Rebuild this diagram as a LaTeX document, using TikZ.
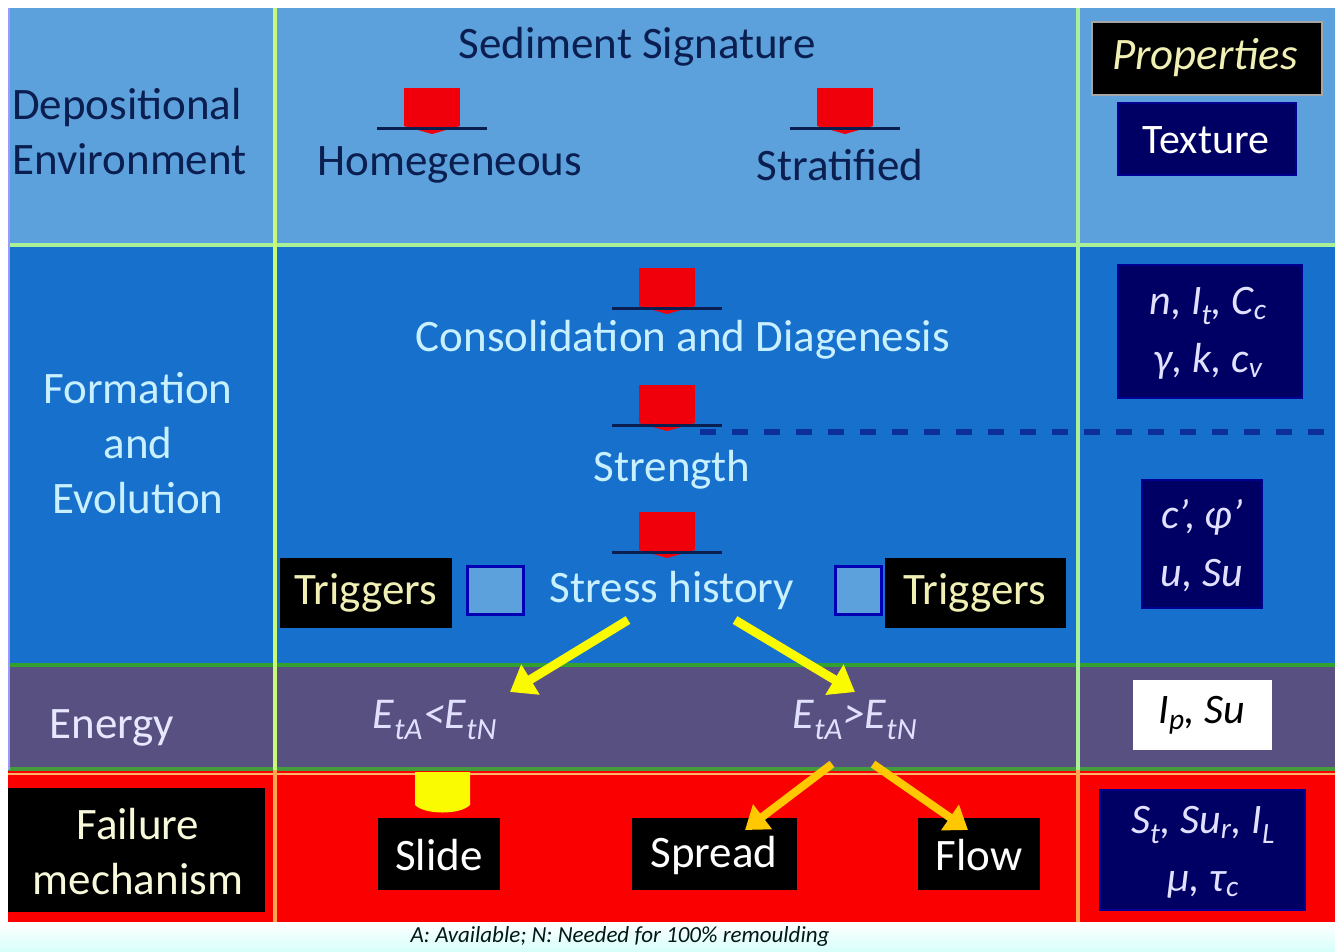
\documentclass[tikz,border=0pt]{standalone}
\usepackage{fontspec}
\setmainfont{Carlito}
\usetikzlibrary{arrows.meta,shapes.geometric}
\definecolor{rowA}{RGB}{92,160,220}
\definecolor{rowB}{RGB}{22,112,204}
\definecolor{rowC}{RGB}{88,80,128}
\definecolor{rowD}{RGB}{250,0,0}
\definecolor{navytxt}{RGB}{10,30,80}
\definecolor{lighttxt}{RGB}{200,240,255}
\definecolor{lavtxt}{RGB}{225,225,255}
\definecolor{creamtxt}{RGB}{240,240,180}
\definecolor{navybox}{RGB}{0,0,100}
\definecolor{gridA}{RGB}{170,240,150}
\definecolor{gridB}{RGB}{200,250,120}
\definecolor{dashblue}{RGB}{10,50,150}
\definecolor{arrowred}{RGB}{240,0,10}
\definecolor{arrowyel}{RGB}{250,250,0}
\definecolor{arroworange}{RGB}{255,200,0}
\definecolor{capbg}{RGB}{215,255,250}
\newcommand\sbs[1]{\textsubscript{#1}}
\newcommand\dnarrow[2]{%
  \fill[arrowred] (#1-28,#2) rectangle (#1+28,#2+38);
  \fill[arrowred] (#1-28,#2+38) -- (#1+28,#2+38) -- (#1,#2+46) -- cycle;
  \draw[navytxt,line width=3] (#1-55,#2+40) -- (#1+55,#2+40);
}
\tikzset{
  bigtxt/.style={font=\fontsize{45}{55}\selectfont, inner sep=0pt, align=center},
  proptxt/.style={font=\fontsize{42}{58}\selectfont\itshape, inner sep=0pt, align=center, text=lavtxt},
  etxt/.style={font=\fontsize{44}{50}\selectfont\itshape, text=lavtxt, inner sep=0pt},
  blackbox/.style={fill=black, draw=none},
  navybx/.style={fill=navybox, draw=navybox!70!blue, line width=1.5},
  yarrow/.style={draw=arrowyel, line width=9, -{Triangle[length=24,width=34]}},
  oarrow/.style={draw=arroworange, line width=8, -{Triangle[length=22,width=30]}},
  gridline/.style={line width=3.5},
}
\begin{document}
\begin{tikzpicture}[x=1pt,y=-1pt]
\useasboundingbox (0,0) rectangle (1335,951);
\fill[white] (0,0) rectangle (1335,951);
% caption background
\shade[top color=white, bottom color=capbg] (0,922) rectangle (1335,951);
% rows
\fill[rowA] (8,8) rectangle (1335,245);
\fill[rowB] (8,245) rectangle (1335,665);
\fill[rowC] (8,665) rectangle (1335,770);
\fill[rowD] (8,770) rectangle (1335,922);
% grid lines
\draw[gridline,gridA] (8,245) -- (1335,245);
\draw[gridline,green!50!black!70!gridA] (8,665) -- (1335,665);
\draw[gridline,green!40!black!60!gridA] (8,769) -- (1335,769);
\draw[line width=2,orange!60!white] (8,774) -- (1335,774);
\draw[gridline,gridB] (275,8) -- (275,770);
\draw[gridline,orange!70!white] (275,770) -- (275,922);
\draw[gridline,gridA] (1078,8) -- (1078,770);
\draw[gridline,orange!70!white] (1078,770) -- (1078,922);
\draw[line width=2,blue!40!white] (9,8) -- (9,770);
% dashed separator
\draw[dashblue,line width=6,dash pattern=on 16pt off 16pt] (700,432) -- (1330,432);

% left column
\node[bigtxt,anchor=west,align=left,text=navytxt] (dep) at (12,132) {Depositional\\Environment};
\node[bigtxt,text=lighttxt] (form) at (138,443) {Formation\\and\\Evolution};
\node[bigtxt,text=lavtxt!80!white] (energy) at (112,728) {Energy};
\fill[black] (8,788) rectangle (265,912);
\node[bigtxt,text=creamtxt!50!white] (fail) at (138,852) {Failure\\mechanism};

% row 1 middle
\node[bigtxt,text=navytxt] (sedsig) at (637,47) {Sediment Signature};
\dnarrow{432}{88}
\dnarrow{845}{88}
\node[bigtxt,text=navytxt] (homo) at (450,165) {Homegeneous};
\node[bigtxt,text=navytxt] (strat) at (840,165) {Stratified};

% row 2 middle
\dnarrow{667}{268}
\node[bigtxt,text=lighttxt] (consol) at (683,340) {Consolidation and Diagenesis};
\dnarrow{667}{385}
\node[bigtxt,text=lighttxt] (strength) at (672,470) {Strength};
\dnarrow{667}{512}
\node[bigtxt,text=lighttxt] (stress) at (672,590) {Stress history};
\fill[blackbox] (280,558) rectangle (452,628);
\node[bigtxt,text=creamtxt] (trigL) at (366,593) {Triggers};
\fill[blackbox] (885,558) rectangle (1066,628);
\node[bigtxt,text=creamtxt] (trigR) at (975,593) {Triggers};
\filldraw[fill=rowA,draw=blue!70!black,line width=3] (467,566) rectangle (523,614);
\filldraw[fill=rowA,draw=blue!70!black,line width=3] (835,566) rectangle (881,614);

% row 3
\node[etxt] (elt) at (435,720) {E\sbs{tA}<E\sbs{tN}};
\node[etxt] (egt) at (855,720) {E\sbs{tA}>E\sbs{tN}};
\coordinate (s1) at (628,620);
\coordinate (e1) at (510,692);
\coordinate (s2) at (735,620);
\coordinate (e2) at (855,692);
\draw[yarrow] (s1) -- (e1);
\draw[yarrow] (s2) -- (e2);

% row 4
\fill[blackbox] (378,818) rectangle (500,890);
\node[bigtxt,text=white] (slide) at (439,855) {Slide};
\fill[blackbox] (632,818) rectangle (797,890);
\node[bigtxt,text=white] (spread) at (714,855) {Spread};
\fill[blackbox] (918,818) rectangle (1040,890);
\node[bigtxt,text=white] (flow) at (979,855) {Flow};
\fill[arrowyel] (415,772) -- (470,772) -- (470,805) .. controls (460,815) and (425,815) .. (415,805) -- cycle;
\coordinate (s3) at (832,764);
\coordinate (e3) at (745,830);
\coordinate (s4) at (873,764);
\coordinate (e4) at (968,830);
\draw[oarrow] (s3) -- (e3);
\draw[oarrow] (s4) -- (e4);

% right column
\filldraw[fill=black,draw=gray!70,line width=2] (1092,22) rectangle (1322,95);
\node[bigtxt,font=\fontsize{45}{55}\selectfont\itshape,text=creamtxt] (props) at (1205,58) {Properties};
\filldraw[navybx] (1118,103) rectangle (1296,175);
\node[bigtxt,font=\fontsize{42}{50}\selectfont,text=white] (texture) at (1206,140) {Texture};
\filldraw[navybx] (1118,265) rectangle (1302,398);
\node[proptxt] (p1) at (1208,333) {n, I\sbs{t}, C\sbs{c}\\γ, k, c\sbs{v}};
\filldraw[navybx] (1142,480) rectangle (1262,608);
\node[proptxt] (p2) at (1202,546) {c’, φ’\\u, Su};
\fill[white] (1133,680) rectangle (1272,750);
\node[proptxt,text=black] (p3) at (1202,715) {I\sbs{p}, Su};
\filldraw[navybx] (1100,790) rectangle (1305,910);
\node[proptxt] (p4) at (1203,852) {S\sbs{t}, Su\sbs{r}, I\sbs{L}\\μ, τ\sbs{c}};

% caption
\node[font=\fontsize{23}{26}\selectfont\itshape,text=black!80!teal,inner sep=0pt] (cap) at (620,936) {A: Available; N: Needed for 100\% remoulding};
\end{tikzpicture}
\end{document}
